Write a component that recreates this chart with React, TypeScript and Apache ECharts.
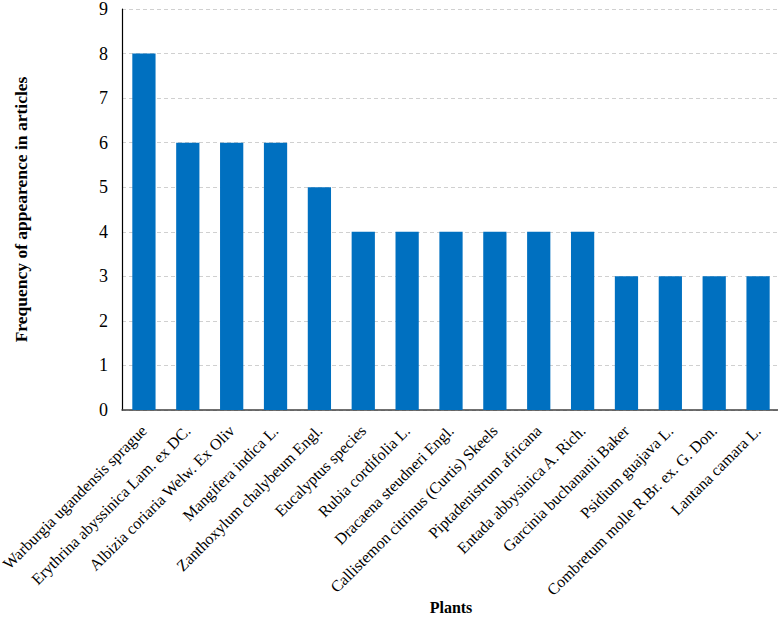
import React, { useEffect, useRef } from "react";
import * as echarts from "echarts";

const categories = [
  "Warburgia ugandensis sprague",
  "Erythrina abyssinica Lam. ex DC.",
  "Albizia coriaria Welw. Ex Oliv",
  "Mangifera indica L.",
  "Zanthoxylum chalybeum Engl.",
  "Eucalyptus species",
  "Rubia cordifolia L.",
  "Dracaena steudneri Engl.",
  "Callistemon citrinus (Curtis) Skeels",
  "Piptadenistrum africana",
  "Entada abbysinica A. Rich.",
  "Garcinia buchananii Baker",
  "Psidium guajava L.",
  "Combretum molle R.Br. ex. G. Don.",
  "Lantana camara L.",
];
const frequencies = [8, 6, 6, 6, 5, 4, 4, 4, 4, 4, 4, 3, 3, 3, 3];
const yTicks = { min: 0, max: 9, interval: 1 };

const FONT = "'Liberation Serif', 'Times New Roman', serif";

export default function App() {
  const ref = useRef<HTMLDivElement>(null);
  useEffect(() => {
    if (!ref.current) return;
    const chart = echarts.init(ref.current, null, { renderer: "svg" });
    chart.setOption({
      animation: false,
      textStyle: { fontFamily: FONT },
      grid: {
        left: 122,
        right: -2,
        top: 9,
        bottom: 208,
        containLabel: false,
        outerBoundsMode: "none",
      },
      xAxis: {
        type: "category",
        data: categories,
        name: "Plants",
        nameLocation: "middle",
        nameGap: 189,
        nameMoveOverlap: false,
        nameTextStyle: { fontFamily: FONT, fontWeight: "bold", fontSize: 16, color: "#000" },
        axisLine: { lineStyle: { color: "#404040", width: 1.5 } },
        axisTick: { show: false },
        axisLabel: {
          rotate: 45,
          interval: 0,
          margin: 18,
          fontFamily: FONT,
          fontSize: 16,
          color: "#000",
        },
      },
      yAxis: {
        type: "value",
        min: yTicks.min,
        max: yTicks.max,
        interval: yTicks.interval,
        name: "Frequency of appearence in articles",
        nameLocation: "middle",
        nameGap: 92,
        nameMoveOverlap: false,
        nameTextStyle: { fontFamily: FONT, fontWeight: "bold", fontSize: 17.5, color: "#000" },
        axisLine: { show: true, lineStyle: { color: "#000", width: 1.2 } },
        axisTick: { show: false },
        axisLabel: { fontFamily: FONT, fontSize: 18, color: "#000", margin: 14 },
        splitLine: { lineStyle: { color: "#d0d0d0", type: [4, 3], width: 1 } },
      },
      series: [
        {
          type: "bar",
          data: frequencies,
          barWidth: "53%",
          itemStyle: { color: "#0070C0" },
        },
      ],
    });
    return () => chart.dispose();
  }, []);
  return (
    <div
      ref={ref}
      style={{ position: "absolute", left: 0, top: 0, width: 778, height: 618, background: "#fff" }}
    />
  );
}
